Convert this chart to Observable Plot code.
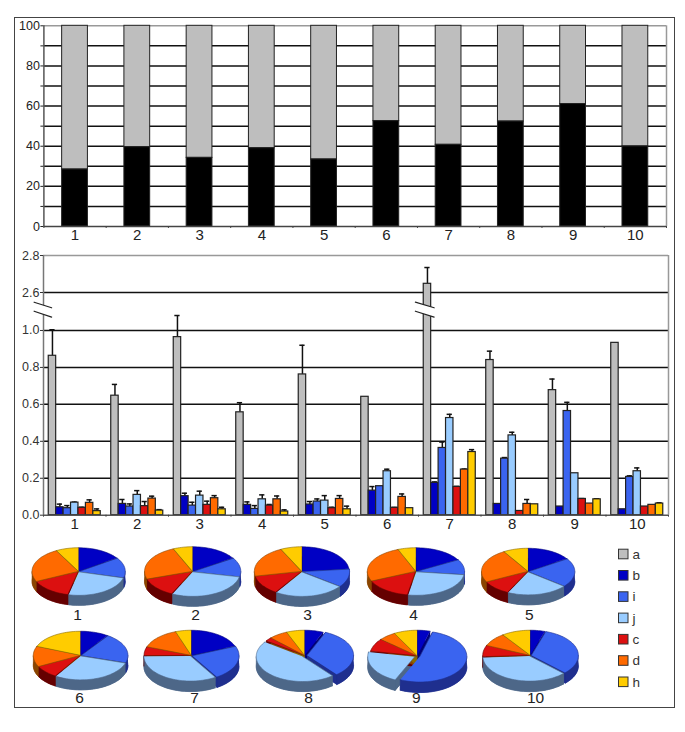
<!DOCTYPE html>
<html>
<head>
<meta charset="utf-8">
<script src="https://cdn.jsdelivr.net/npm/d3@7"></script>
<script src="https://cdn.jsdelivr.net/npm/@observablehq/plot@0.6"></script>
<style>
html,body{margin:0;padding:0;background:#fff;}
#page{position:relative;width:685px;height:732px;overflow:hidden;}
#frame{position:absolute;left:14px;top:17px;width:661px;height:691px;box-sizing:border-box;border:1.5px solid #444;}
#page svg{position:absolute;left:0;}
</style>
</head>
<body>
<div id="page"><div id="frame"></div></div>
<script>
const groups = [1,2,3,4,5,6,7,8,9,10];
const share = [28.4,39.5,34.2,39,33.4,52.5,40.7,52.3,61,39.9];

const a = [.863,.647,.964,.557,.762,.641,2.647,.84,.677,.933];
const b = [.043,.061,.103,.056,.058,.133,.175,.061,.047,.032];
const i_ = [.038,.047,.052,.034,.074,.157,.364,.306,.564,.207];
const j = [.068,.11,.106,.086,.079,.238,.526,.432,.227,.238];
const c = [.04,.049,.056,.052,.038,.04,.153,.023,.088,.047];
const d_ = [.067,.09,.092,.086,.088,.099,.247,.061,.063,.056];
const h = [.022,.025,.032,.02,.032,.038,.342,.059,.086,.063];

const aErr = [1.004,.708,1.081,.609,.92,null,2.735,.888,.737,null];
const bErr = [.06,.085,.119,.072,.074,.155,.18,null,null,null];
const iErr = [.052,.061,.07,.052,.088,null,.396,.312,.611,.213];
const jErr = [.071,.133,.13,.11,.106,.249,.546,.449,null,.256];
const cErr = [.043,.074,.076,.058,.043,.042,.156,null,.09,null];
const dErr = [.083,.103,.106,.104,.106,.115,.25,.085,null,null];
const hErr = [.034,.03,.043,.029,.049,null,.355,null,.089,.067];

const seriesNames = ["a","b","i","j","c","d","h"];
const seriesValues = [a,b,i_,j,c,d_,h];
const seriesErrors = [aErr,bErr,iErr,jErr,cErr,dErr,hErr];
const barColors = ["#bebebe","#0000c4","#3a64f0","#99ccff","#dc1010","#ff6a00","#ffcc00"];
const sideColors = ["#777","#00007a","#1f2f8e","#4d6788","#650000","#8a4500","#8a6a00"];

const yTicksTop = d3.range(0,101,10);
const yTicksBottom = [0,.2,.4,.6,.8,1,2.6,2.8];
const boundaries = d3.range(.5,11,1);

const font = {fontFamily:"'Liberation Sans',Arial,sans-serif",background:"transparent",overflow:"visible"};
const page = document.getElementById("page");
function place(svg,top){svg.style.top=top+"px";page.appendChild(svg);}

/* ---------- top chart ---------- */
const topRows = groups.map((g,k)=>({g,v:share[k]}));
const hw = .207;
place(Plot.plot({
  width:685,height:240,marginLeft:43.4,marginRight:19,marginTop:25.3,marginBottom:14,style:font,
  x:{type:"linear",domain:[.5,10.5]},
  y:{type:"linear",domain:[0,100]},
  marks:[
    Plot.ruleY(yTicksTop.slice(1,-1),{x1:.5,x2:10.5,stroke:"#111",strokeWidth:1.5}),
    Plot.ruleY([100],{x1:.5,x2:10.5,stroke:"#999",strokeWidth:1.5}),
    Plot.ruleX([10.5],{y1:0,y2:100,stroke:"#999",strokeWidth:1.5}),
    Plot.rectY(topRows,{x1:d=>d.g-hw,x2:d=>d.g+hw,y1:d=>d.v,y2:100,fill:"#bebebe",stroke:"#222",strokeWidth:1}),
    Plot.rectY(topRows,{x1:d=>d.g-hw,x2:d=>d.g+hw,y1:0,y2:d=>d.v,fill:"#000",stroke:"#222",strokeWidth:1}),
    Plot.axisY({ticks:yTicksTop,tickSize:3,tickPadding:1,fontSize:12.5,label:null,color:"#222",tickFormat:v=>v%20?"":v}),
    Plot.ruleX([.5],{y1:0,y2:100,stroke:"#555",strokeWidth:1.5}),
    Plot.ruleY([0],{x1:.5,x2:10.5,stroke:"#444",strokeWidth:1.5}),
    Plot.axisX({ticks:boundaries,tickSize:2,tickFormat:()=>"",label:null,color:"#444"}),
    Plot.axisX({ticks:groups,tickSize:0,tickPadding:3,fontSize:15,label:null,color:"#222"})
  ]
}),0);

/* ---------- bottom chart ---------- */
const slot = .1189;
const barRows = groups.flatMap((g,k)=>seriesNames.map((s,m)=>({
  g,s,m,v:seriesValues[m][k],e:seriesErrors[m][k],
  x1:g+(m-3.5)*slot,x2:g+(m-2.5)*slot
})));
const errRows = barRows.filter(d=>d.e!=null);
const axisBreak = {c:.49,w:.14};
const barBreak = {c:6.6,w:.15};
const breakTop = [2.496,1.82], breakBottom = [1.41,1.072];
function breakShape(br,id){
  return [
    {id,x:br.c-br.w,y:breakTop[0]},{id,x:br.c+br.w,y:breakTop[1]},
    {id,x:br.c+br.w,y:breakBottom[1]},{id,x:br.c-br.w,y:breakBottom[0]}
  ];
}
function breakLines(br,id){
  return [
    {id:id+"t",x:br.c-br.w,y:breakTop[0]},{id:id+"t",x:br.c+br.w,y:breakTop[1]},
    {id:id+"b",x:br.c-br.w,y:breakBottom[0]},{id:id+"b",x:br.c+br.w,y:breakBottom[1]}
  ];
}
place(Plot.plot({
  width:685,height:290,marginLeft:43,marginRight:17,marginTop:15,marginBottom:15.3,style:font,
  x:{type:"linear",domain:[.5,10.5]},
  y:{type:"linear",domain:[0,1.09,2.55,2.8],range:[274.7,73.35,61.25,15]},
  color:{type:"identity"},
  marks:[
    Plot.ruleY(yTicksBottom.filter(v=>v>0&&v<2.8),{x1:.5,x2:10.5,stroke:"#111",strokeWidth:1.5}),
    Plot.ruleY([2.8],{x1:.5,x2:10.5,stroke:"#999",strokeWidth:1.5}),
    Plot.ruleX([10.5],{y1:0,y2:2.8,stroke:"#999",strokeWidth:1.5}),
    Plot.ruleX(errRows,{x:d=>(d.x1+d.x2)/2,y1:"v",y2:"e",stroke:"#111",strokeWidth:1.5}),
    Plot.ruleY(errRows,{y:"e",x1:d=>(d.x1+d.x2)/2-.042,x2:d=>(d.x1+d.x2)/2+.042,stroke:"#111",strokeWidth:1.5}),
    Plot.rectY(barRows,{x1:"x1",x2:"x2",y1:0,y2:"v",fill:d=>barColors[d.m],stroke:"#222",strokeWidth:1.2}),
    Plot.ruleX([.5],{y1:0,y2:2.8,stroke:"#777",strokeWidth:1.5}),
    Plot.ruleY([0],{x1:.5,x2:10.5,stroke:"#555",strokeWidth:1.5}),
    Plot.line([...breakShape(axisBreak,"A"),...breakShape(barBreak,"B")],{x:"x",y:"y",z:"id",fill:"#fff",stroke:"none"}),
    Plot.line([...breakLines(axisBreak,"A"),...breakLines(barBreak,"B")],{x:"x",y:"y",z:"id",stroke:"#222",strokeWidth:1.2}),
    Plot.axisY({ticks:yTicksBottom,tickSize:3,tickPadding:1,fontSize:12.5,label:null,color:"#333",tickFormat:d3.format(".1f")}),
    Plot.axisX({ticks:boundaries,tickSize:2,tickFormat:()=>"",label:null,color:"#444"}),
    Plot.axisX({ticks:groups,tickSize:0,tickPadding:3,fontSize:15,label:null,color:"#222"})
  ]
}),240);

/* ---------- pies ---------- */
const pieOrder = [1,2,3,4,5,7,6,8,9,10]; // the pies labelled 6 and 7 show the reverse bar groups
const pieCx = [78,192,301.3,415.3,527.5,80,190.7,304,416.7,529.7];
const pieCy = [571,571,571,571,571,655,655,655,655.5,655];
const pieRx = [46,47.5,47,48,46,46.7,46.7,46.5,47,47];
const pieRy = [23.5,24.5,24.5,23.5,23,24,25,25,25.5,25];
const pieDepth = [10,10,10,10,10,10,10.5,10,10.5,10.5];
const explodeSmall = [.5,.5,.5,.5,.5,.5,.5,.5,.5,.5];
const explodeLarge = [.8,.8,.8,.8,.8,.8,1.2,2.6,2.8,1.2]; // slices i and j
const pieLabelX = [77,195,307,413,528.7,79,194,308,415.7,535];
const pieLabelY = [614.5,614.5,614.5,614.5,614.5,698,698,698,698,698];

const pieTops = [], pieSides = [], pieUnder = [];
groups.forEach((g,k)=>{
  const vals = seriesValues.slice(1).map(s=>s[pieOrder[k]-1]);
  const total = d3.sum(vals);
  let t0 = 0;
  vals.forEach((v,m)=>{
    const t1 = t0 + v/total*2*Math.PI;
    const mid = (t0+t1)/2;
    const shift = (m===1||m===2) ? explodeLarge[k] : explodeSmall[k];
    const ox = pieCx[k] + Math.sin(mid)*shift;
    const oy = pieCy[k] - Math.cos(mid)*shift*pieRy[k]/pieRx[k];
    const pt = (t,dep=0)=>({x:ox+pieRx[k]*Math.sin(t),y:oy-pieRy[k]*Math.cos(t)+dep});
    const n = Math.max(2,Math.ceil((t1-t0)/.05));
    const arc = d3.range(n+1).map(q=>t0+(t1-t0)*q/n);
    const id = g+"-"+m;
    const dep = pieDepth[k];
    [{x:ox,y:oy},...arc.map(t=>pt(t))].forEach(p=>pieTops.push({id,m,...p}));
    [{x:ox,y:oy+dep},...arc.map(t=>pt(t,dep))].forEach(p=>pieUnder.push({id:id+"u",m,...p}));
    [t0,t1].forEach((t,w)=>{
      const e = pt(t);
      [{x:ox,y:oy},e,{x:e.x,y:e.y+dep},{x:ox,y:oy+dep}].forEach(p=>pieUnder.push({id:id+"w"+w,m,...p}));
    });
    const fa = Math.max(t0,Math.PI/2), fb = Math.min(t1,3*Math.PI/2);
    if (fb>fa){
      const fn = Math.max(2,Math.ceil((fb-fa)/.05));
      const fr = d3.range(fn+1).map(q=>fa+(fb-fa)*q/fn);
      [...fr.map(t=>pt(t)),...fr.slice().reverse().map(t=>pt(t,dep))].forEach(p=>pieSides.push({id,m,...p}));
    }
    t0 = t1;
  });
});
const pieLabels = groups.map((g,k)=>({g,x:pieLabelX[k],y:pieLabelY[k]}));
const legendRows = seriesNames.map((s,m)=>({s,m,y:554+m*21.3}));

place(Plot.plot({
  width:685,height:190,margin:0,style:font,
  x:{type:"linear",domain:[0,685],range:[0,685],axis:null},
  y:{type:"linear",domain:[530,720],range:[0,190],axis:null},
  color:{type:"identity"},
  marks:[
    Plot.line(pieUnder,{x:"x",y:"y",z:"id",fill:d=>sideColors[d.m+1],stroke:d=>sideColors[d.m+1],strokeWidth:.5}),
    Plot.line(pieSides,{x:"x",y:"y",z:"id",fill:d=>sideColors[d.m+1],stroke:d=>sideColors[d.m+1],strokeWidth:.5}),
    Plot.line(pieTops,{x:"x",y:"y",z:"id",fill:d=>barColors[d.m+1],stroke:d=>sideColors[d.m+1],strokeWidth:.6}),
    Plot.text(pieLabels,{x:"x",y:"y",text:"g",fontSize:15.5,fill:"#222"}),
    Plot.rect(legendRows,{x1:618.5,x2:628,y1:d=>d.y-4.8,y2:d=>d.y+4.8,fill:d=>barColors[d.m],stroke:"#333",strokeWidth:1}),
    Plot.text(legendRows,{x:632,y:"y",text:"s",textAnchor:"start",fontSize:13.5,fill:"#333"})
  ]
}),530);
</script>
</body>
</html>
